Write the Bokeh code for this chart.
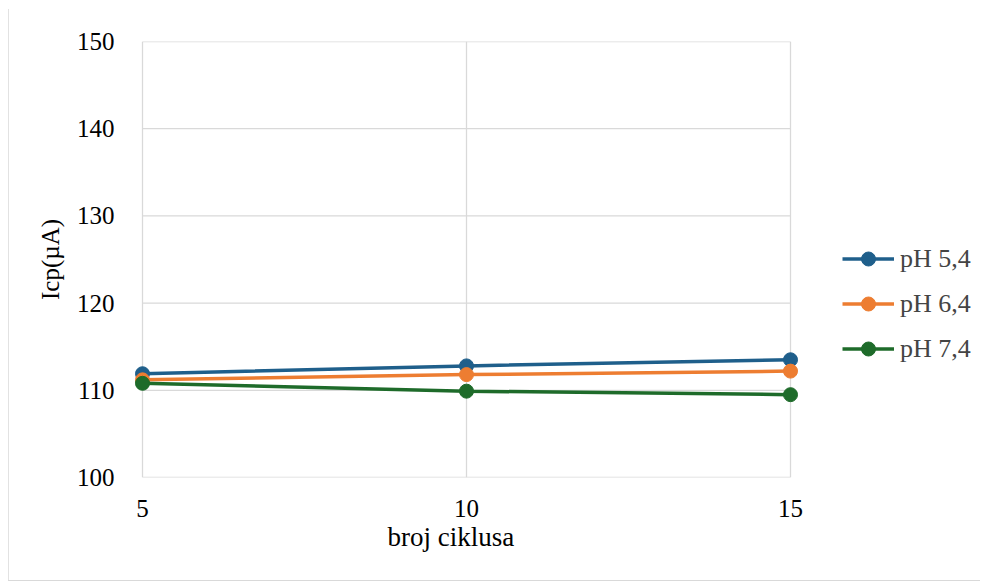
from bokeh.plotting import figure
from bokeh.models import Legend, LegendItem, FixedTicker, Range1d, Title
from bokeh.embed import file_html
from bokeh.resources import INLINE

cycles = [5, 10, 15]
ph54 = [111.9, 112.8, 113.5]
ph64 = [111.2, 111.8, 112.2]
ph74 = [110.8, 109.9, 109.5]
names = ["pH 5,4", "pH 6,4", "pH 7,4"]
colors = ["#1F5F8B", "#ED7D31", "#1E6B2A"]
xticks = [5, 10, 15]
yticks = [100, 110, 120, 130, 140, 150]
x_title = "broj ciklusa"
y_title = "Icp(µA)"

FONT = "Liberation Serif"
W, H = 972, 572
BL, BR, BT, BB = 126, 2, 33, 103
PX_PER_UNIT = 64.8
XPAD = 8 / PX_PER_UNIT  # keep end markers clear of the frame edge
x_start = xticks[0] - XPAD
x_end = x_start + (W - BL - BR) / PX_PER_UNIT  # frame also hosts the legend

p = figure(width=W, height=H, output_backend="svg", toolbar_location=None,
           x_range=Range1d(x_start, x_end),
           y_range=Range1d(yticks[0], yticks[-1]),
           min_border_left=BL, min_border_right=BR, min_border_top=BT, min_border_bottom=BB)
p.outline_line_color = None
p.border_fill_color = "white"
p.background_fill_color = "white"

p.segment(x0=xticks[0], x1=xticks[-1], y0=yticks, y1=yticks, line_color="#D9D9D9", line_width=1.3)
p.ygrid.grid_line_color = None
p.xgrid.grid_line_color = "#D9D9D9"
p.xgrid.grid_line_width = 1.3

items = []
for ys, name, c in zip([ph54, ph64, ph74], names, colors):
    r1 = p.line(cycles, ys, line_color=c, line_width=3.5)
    r2 = p.scatter(cycles, ys, size=14, fill_color=c, line_color=c)
    items.append(LegendItem(label=name, renderers=[r1, r2]))

p.xaxis.ticker = FixedTicker(ticks=xticks)
p.yaxis.ticker = FixedTicker(ticks=yticks)
for ax in [p.xaxis[0], p.yaxis[0]]:
    ax.major_label_text_font = FONT
    ax.major_label_text_font_size = "25px"
    ax.major_label_text_color = "#000000"
    ax.axis_label_text_font = FONT
    ax.axis_label_text_font_size = "25px"
    ax.axis_label_text_font_style = "normal"
    ax.axis_label_text_color = "#000000"
    ax.major_tick_line_color = None
    ax.minor_tick_line_color = None
    ax.axis_line_color = None
p.yaxis.axis_label = y_title
p.xaxis.major_label_standoff = 16
p.yaxis.major_label_standoff = 14
p.yaxis.axis_label_standoff = 10

# x-axis title, centred under the data span (not the whole frame)
xt = Title(text=x_title, align="left", offset=253, text_font=FONT, text_font_size="27px",
           text_font_style="normal", text_color="#000000", standoff=0)
p.add_layout(xt, "below")

legend = Legend(items=items, location=(708, 111), orientation="vertical",
                label_text_font=FONT, label_text_font_size="26px",
                glyph_width=52, glyph_height=35, label_standoff=6, spacing=10,
                border_line_color=None, background_fill_alpha=0, padding=0,
                label_height=35, margin=0)
p.add_layout(legend, "center")

html = file_html(p, INLINE)
html = html.replace("<body>", "<body style=\"margin:8px\"><div style=\"border:1px solid #D9D9D9; width:970px; height:570px; position:absolute; left:8px; top:9px; pointer-events:none\"></div>")
open("out.html", "w").write(html)
